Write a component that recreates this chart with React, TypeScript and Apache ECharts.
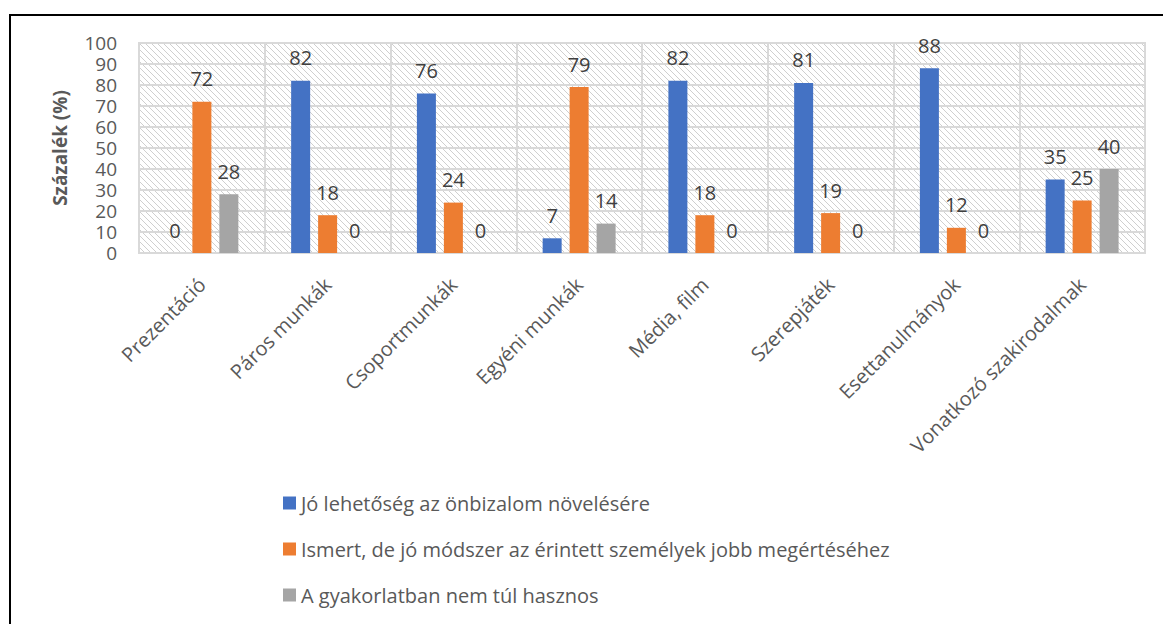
import React, { useEffect, useRef } from "react";
import * as echarts from "echarts";

const categories = [
  "Prezentáció",
  "Páros munkák",
  "Csoportmunkák",
  "Egyéni munkák",
  "Média, film",
  "Szerepjáték",
  "Esettanulmányok",
  "Vonatkozó szakirodalmak",
];
const seriesNames = [
  "Jó lehetőség az önbizalom növelésére",
  "Ismert, de jó módszer az érintett személyek jobb megértéséhez",
  "A gyakorlatban nem túl hasznos",
];
const goodOpportunity = [0, 82, 76, 7, 82, 81, 88, 35];
const knownGoodMethod = [72, 18, 24, 79, 18, 19, 12, 25];
const notUseful = [28, 0, 0, 14, 0, 0, 0, 40];
const colors = ["#4472C4", "#ED7D31", "#A5A5A5"];
const yAxisName = "Százalék (%)";

const FONT = "'Open Sans', 'Noto Sans', sans-serif";

function makeHatch(): string {
  const c = document.createElement("canvas");
  const s = 6;
  c.width = s;
  c.height = s;
  const ctx = c.getContext("2d")!;
  ctx.fillStyle = "#ffffff";
  ctx.fillRect(0, 0, s, s);
  ctx.strokeStyle = "#cfcfcf";
  ctx.lineWidth = 1;
  ctx.beginPath();
  ctx.moveTo(-1, -1);
  ctx.lineTo(s + 1, s + 1);
  ctx.moveTo(-1, s - 1);
  ctx.lineTo(1, s + 1);
  ctx.moveTo(s - 1, -1);
  ctx.lineTo(s + 1, 1);
  ctx.stroke();
  return c.toDataURL();
}

export default function App() {
  const ref = useRef<HTMLDivElement>(null);
  useEffect(() => {
    if (!ref.current) return;
    const chart = echarts.init(ref.current, null, { renderer: "svg" });
    const hatch = makeHatch();
    const data = [goodOpportunity, knownGoodMethod, notUseful];
    chart.setOption({
      animation: false,
      backgroundColor: "#ffffff",
      textStyle: { fontFamily: FONT },
      graphic: [
        {
          type: "line",
          shape: { x1: 10, y1: 15, x2: 1163, y2: 15 },
          style: { stroke: "#000", lineWidth: 2 },
        },
        {
          type: "line",
          shape: { x1: 10, y1: 14, x2: 10, y2: 624 },
          style: { stroke: "#000", lineWidth: 2 },
        },
      ],
      grid: {
        left: 139,
        right: 18,
        top: 43,
        bottom: 371,
        show: true,
        backgroundColor: {
          image: hatch,
          repeat: "repeat",
          imageWidth: 6,
          imageHeight: 6,
        } as any,
        borderColor: "#d9d9d9",
        borderWidth: 2,
      },
      legend: {
        orient: "vertical",
        left: 278,
        top: 488,
        itemWidth: 13,
        itemHeight: 13,
        itemGap: 26,
        icon: "rect",
        textStyle: {
          fontSize: 20,
          lineHeight: 20,
          color: "#595959",
          fontFamily: FONT,
        },
        data: seriesNames,
      },
      xAxis: {
        type: "category",
        data: categories,
        axisLine: { show: true, lineStyle: { color: "#d9d9d9", width: 2 } },
        axisTick: { show: false },
        splitLine: { show: true, lineStyle: { color: "#d9d9d9", width: 2 } },
        axisLabel: {
          rotate: 45,
          interval: 0,
          margin: 28,
          fontSize: 20,
          color: "#595959",
          fontFamily: FONT,
        },
      },
      yAxis: {
        type: "value",
        min: 0,
        max: 100,
        interval: 10,
        name: yAxisName,
        nameLocation: "middle",
        nameGap: 70,
        nameTextStyle: {
          fontSize: 19,
          fontWeight: "bold",
          color: "#595959",
          fontFamily: FONT,
        },
        axisLine: { show: false },
        axisTick: { show: false },
        splitLine: { show: true, lineStyle: { color: "#d9d9d9", width: 2 } },
        axisLabel: {
          fontSize: 19,
          lineHeight: 19,
          color: "#595959",
          margin: 22,
          fontFamily: FONT,
        },
      },
      series: seriesNames.map((name, i) => ({
        name,
        type: "bar",
        data: data[i],
        barWidth: 19,
        barGap: "42%",
        itemStyle: { color: colors[i] },
        label: {
          show: true,
          position: "top",
          distance: 13,
          fontSize: 20,
          color: "#404040",
          fontFamily: FONT,
        },
      })),
    });
    return () => chart.dispose();
  }, []);
  return (
    <div
      ref={ref}
      style={{ position: "fixed", left: 0, top: 0, width: 1163, height: 624 }}
    />
  );
}
